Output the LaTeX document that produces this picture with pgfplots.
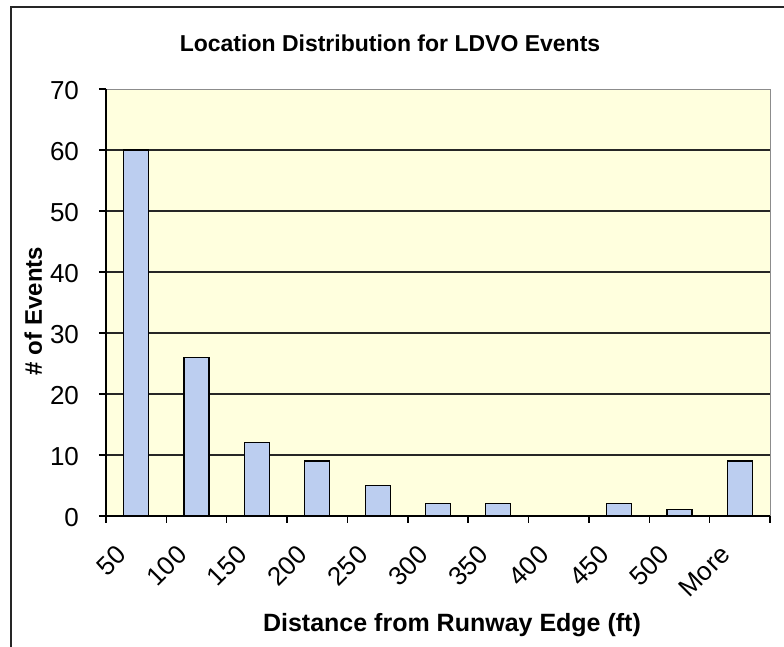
\documentclass[border=0pt]{standalone}
\usepackage{fontspec}
\setmainfont{Liberation Sans}
\usepackage{pgfplots}
\pgfplotsset{compat=1.18}

\definecolor{plotbg}{RGB}{255,255,222}
\definecolor{barfill}{RGB}{188,206,240}

\begin{document}
\begin{tikzpicture}
% page area: 784 x 647 px at 0.5pt per px, origin at the plot's lower left corner
\useasboundingbox (-53pt,-65.5pt) rectangle (339pt,258pt);
\fill[white] (-53pt,-65.5pt) rectangle (339pt,258pt);
\draw[black!85, line width=0.8pt] (-47.5pt,-66pt) -- (-47.5pt,254.5pt) -- (340pt,254.5pt);

\begin{axis}[
    at={(0,0)}, anchor=south west,
    scale only axis,
    width=332pt, height=213.5pt,
    xmin=-0.5, xmax=10.5,
    ymin=0, ymax=70,
    axis background/.style={fill=plotbg, draw=black!45},
    axis x line*=bottom, axis y line*=left,
    axis line style={black, line width=0.7pt},
    tick align=outside,
    major tick length=3.5pt,
    tick style={black, line width=0.7pt},
    ytick={0,10,...,60},
    extra y ticks={70},
    extra y tick style={ymajorgrids=false},
    ymajorgrids,
    grid style={black!85, line width=0.7pt},
    xtick={-0.5,0.5,...,10.5},
    xticklabels={},
    extra x ticks={0,1,...,10},
    extra x tick labels={50,100,150,200,250,300,350,400,450,500,More},
    extra x tick style={major tick length=0pt,
        tick label style={rotate=45, anchor=east, xshift=-13.8pt, yshift=-7pt}},
    tick label style={font=\fontsize{13}{15}\selectfont},
    yticklabel style={xshift=-6.5pt, yshift=-1pt},
    /pgf/number format/assume math mode=true,
    clip=false,
]
\addplot[ybar, bar width=12.5pt, fill=barfill, draw=black, line width=0.6pt]
coordinates {
(0,60)(1,26)(2,12)(3,9)(4,5)(5,2)(6,2)(7,0)(8,2)(9,1)(10,9)
};
\end{axis}

\node[font=\bfseries\fontsize{11.5}{14}\selectfont, anchor=base] at (142pt,232pt) {Location Distribution for LDVO Events};
\node[font=\bfseries\fontsize{12}{14}\selectfont, rotate=90, anchor=base] at (-32pt,102.5pt) {\# of Events};
\node[font=\bfseries\fontsize{12.5}{15}\selectfont, anchor=base] at (173pt,-58pt) {Distance from Runway Edge (ft)};
\end{tikzpicture}
\end{document}
